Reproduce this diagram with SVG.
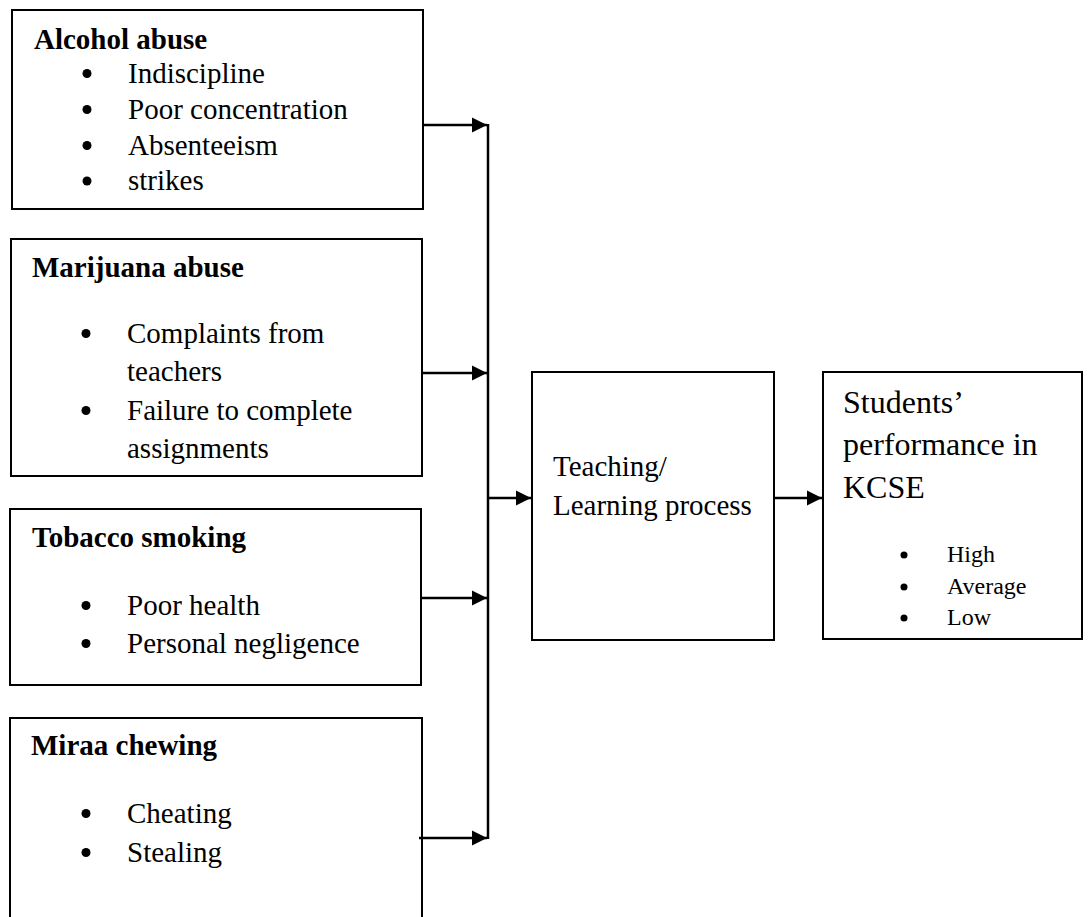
<svg xmlns="http://www.w3.org/2000/svg" width="1089" height="917" viewBox="0 0 1089 917">
<defs>
<style>
.box{fill:#fff;stroke:#000;stroke-width:2}
.t{font-family:"Liberation Serif","Times New Roman",serif;font-size:29px;fill:#000}
.h{font-family:"Liberation Serif","Times New Roman",serif;font-size:29px;font-weight:bold;fill:#000}
.big{font-family:"Liberation Serif","Times New Roman",serif;font-size:32px;fill:#000}
.sm{font-family:"Liberation Serif","Times New Roman",serif;font-size:24px;fill:#000}
.conn{fill:none;stroke:#000;stroke-width:2.5}
</style>
<marker id="arr" markerUnits="userSpaceOnUse" markerWidth="16" markerHeight="16" refX="15" refY="8" orient="auto">
<path d="M0,0.5 L15,8 L0,15.5 Z" fill="#000"/>
</marker>
</defs>
<rect width="1089" height="917" fill="#fff"/>

<g id="alcohol">
<rect class="box" x="12" y="10" width="411" height="199"/>
<text class="h" x="34" y="49">Alcohol abuse</text>
<circle cx="87" cy="73.5" r="4.5"/><text class="t" x="128" y="83">Indiscipline</text>
<circle cx="87" cy="109.5" r="4.5"/><text class="t" x="128" y="119">Poor concentration</text>
<circle cx="87" cy="145.5" r="4.5"/><text class="t" x="128" y="155">Absenteeism</text>
<circle cx="87" cy="181" r="4.5"/><text class="t" x="128" y="190">strikes</text>
</g>

<g id="marijuana">
<rect class="box" x="11" y="239" width="411" height="237"/>
<text class="h" x="32" y="277">Marijuana abuse</text>
<circle cx="86" cy="333.5" r="4.5"/><text class="t" x="127" y="343">Complaints from</text>
<text class="t" x="127" y="381">teachers</text>
<circle cx="86" cy="410.5" r="4.5"/><text class="t" x="127" y="420">Failure to complete</text>
<text class="t" x="127" y="458">assignments</text>
</g>

<g id="tobacco">
<rect class="box" x="10" y="509" width="411" height="176"/>
<text class="h" x="32" y="547">Tobacco smoking</text>
<circle cx="86" cy="605.5" r="4.5"/><text class="t" x="127" y="615">Poor health</text>
<circle cx="86" cy="643.5" r="4.5"/><text class="t" x="127" y="653">Personal negligence</text>
</g>

<g id="miraa">
<rect class="box" x="10" y="718" width="412" height="230"/>
<text class="h" x="31" y="755">Miraa chewing</text>
<circle cx="86" cy="813.5" r="4.5"/><text class="t" x="127" y="823">Cheating</text>
<circle cx="86" cy="852.5" r="4.5"/><text class="t" x="127" y="862">Stealing</text>
</g>

<g id="teaching">
<rect class="box" x="532" y="372" width="242" height="268"/>
<text class="t" x="553" y="476">Teaching/</text>
<text class="t" x="553" y="515">Learning process</text>
</g>

<g id="performance">
<rect class="box" x="823" y="372" width="259" height="267"/>
<text class="big" x="843" y="413">Students’</text>
<text class="big" x="843" y="455">performance in</text>
<text class="big" x="843" y="498">KCSE</text>
<circle cx="904" cy="555" r="3.5"/><text class="sm" x="947" y="562">High</text>
<circle cx="904" cy="587" r="3.5"/><text class="sm" x="947" y="594">Average</text>
<circle cx="904" cy="618" r="3.5"/><text class="sm" x="947" y="625">Low</text>
</g>

<g id="connectors">
<line class="conn" x1="423" y1="125" x2="487" y2="125" marker-end="url(#arr)"/>
<line class="conn" x1="422" y1="373" x2="487" y2="373" marker-end="url(#arr)"/>
<line class="conn" x1="421" y1="598" x2="487" y2="598" marker-end="url(#arr)"/>
<line class="conn" x1="419" y1="838" x2="487" y2="838" marker-end="url(#arr)"/>
<line class="conn" x1="488" y1="124" x2="488" y2="839"/>
<line class="conn" x1="488" y1="498" x2="531" y2="498" marker-end="url(#arr)"/>
<line class="conn" x1="774" y1="498" x2="822" y2="498" marker-end="url(#arr)"/>
</g>
</svg>
